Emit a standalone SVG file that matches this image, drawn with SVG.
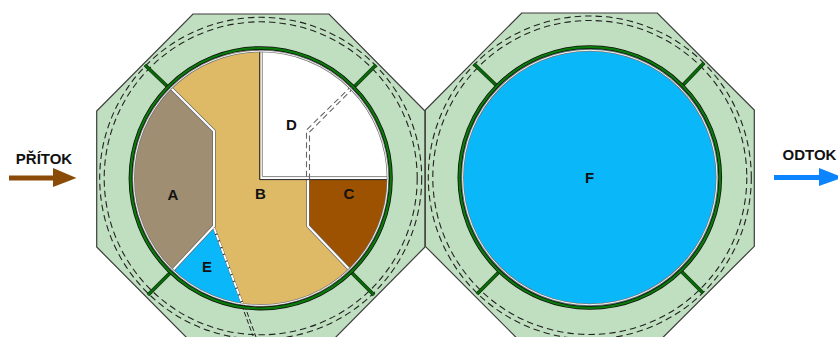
<svg xmlns="http://www.w3.org/2000/svg" width="838" height="337" viewBox="0 0 838 337">
<style>
.oct{fill:#c0dfc0;stroke:#3c3c3c;stroke-width:1.2}
.dash{fill:none;stroke:#222;stroke-width:1.1;stroke-dasharray:6.500 4}
.r1{fill:none;stroke:#0f0f0f;stroke-width:3.800}
.r2{fill:none;stroke:#0a7a0a;stroke-width:2.200}
.r3{fill:none;stroke:#777;stroke-width:2.400}
.r4{fill:none;stroke:#f4f4f4;stroke-width:1}
.sp1{stroke:#123c12;stroke-width:3.800;fill:none}
.sp2{stroke:#0a6a0a;stroke-width:2.200;fill:none}
.sepg{fill:none;stroke:#666;stroke-width:3.400}
.sepw{fill:none;stroke:#fff;stroke-width:2}
.dd{fill:none;stroke:#666;stroke-width:1.100;stroke-dasharray:6 3.500}
.t{font-family:"Liberation Sans",Arial,sans-serif;font-weight:bold;font-size:15px;fill:#111;text-anchor:middle}
</style>
<g id="tank-left">
<polygon class="oct" points="193,14 329,14 425,111 425,247 329,344 193,344 96.700,247 96.700,111"/>
<circle class="dash" cx="260.700" cy="178.300" r="161"/>
<circle class="dash" cx="260.700" cy="178.300" r="156.500"/>
<path class="sp1" d="M145,65L168,87M376,65L354,87M148,295L170,273M374,295L352,273"/>
<path class="sp2" d="M145,65L168,87M376,65L354,87M148,295L170,273M374,295L352,273"/>
<circle cx="260.700" cy="178.300" r="128.500" fill="#fff"/>
</g>
<g id="region-B"><path d="M171,88A128.500,128.500 0 0 1 260.700,50L260.700,180L307,180L307,226L350,270A128.500,128.500 0 0 1 243,305.500L214,228L214,131Z" fill="#deba66"/></g>
<g id="region-A"><path d="M170,88L213.500,132L213.500,226L172,271A128.500,128.500 0 0 1 170,88Z" fill="#9f8e72"/></g>
<g id="region-C"><path d="M308,180L389,180A128.500,128.500 0 0 1 350,270L308,226Z" fill="#9c5200"/></g>
<g id="region-D"><path d="M260.700,50A128.500,128.500 0 0 1 389,179L260.700,179Z" fill="#fff"/></g>
<g id="region-E"><path d="M214,228L243,305.500A128.500,128.500 0 0 1 172,271Z" fill="#0ab8fa"/></g>
<g id="connectors">
<path d="M171,88L214,131L214,226L172,271M308,180L308,226L350,270" class="sepg"/>
<path d="M171,88L214,131L214,226L172,271M308,180L308,226L350,270" class="sepw"/>
<path d="M214,228L243,305.500" fill="none" stroke="#333" stroke-width="2.400"/>
<path d="M214,228L243,305.500" fill="none" stroke="#fff" stroke-width="2" stroke-dasharray="6 1.200"/>
<path d="M259.700,50.500V179.600H389" fill="none" stroke="#222" stroke-width="1"/>
<path d="M262.300,50.500V176.600H389" fill="none" stroke="#888" stroke-width="1"/>
<path class="dd" d="M352,85.500L306.500,130V180"/>
<path class="dd" d="M354,87.500L309.500,132V180"/>
<path d="M241.700,305L253,336" fill="none" stroke="#222" stroke-width="1" stroke-dasharray="5 2.500"/>
<path d="M244.400,305L256,337" fill="none" stroke="#222" stroke-width="1" stroke-dasharray="5 2.500"/>
<path d="M9,178H54" stroke="#8a4b08" stroke-width="5" fill="none"/>
<polygon points="53,168 76.500,178 53,187" fill="#8a4b08"/>
<path d="M774,177.500H820" stroke="#0a84ff" stroke-width="5" fill="none"/>
<polygon points="819,168 843,177.500 819,186" fill="#0a84ff"/>
</g>
<g id="ring-left">
<circle class="r3" cx="260.700" cy="178.300" r="127.200"/>
<circle class="r4" cx="260.700" cy="178.300" r="127.200"/>
<circle class="r1" cx="260.700" cy="178.300" r="130.200"/>
<circle class="r2" cx="260.700" cy="178.300" r="130.200"/>
</g>
<g id="tank-right">
<polygon class="oct" points="521.700,13 657.300,13 754.300,110 754.300,246.300 657.300,343 521.700,343 425.300,246.300 425.300,110"/>
<circle class="dash" cx="589.800" cy="177.500" r="161.500"/>
<circle class="dash" cx="589.800" cy="177.500" r="157"/>
<path class="sp1" d="M474,64L497,86M704,63L683,85M477,294L499,272M703,293L682,272"/>
<path class="sp2" d="M474,64L497,86M704,63L683,85M477,294L499,272M703,293L682,272"/>
<circle cx="589.800" cy="177.500" r="128.500" fill="#0ab8fa"/>
<circle class="r3" cx="589.800" cy="177.500" r="127.200"/>
<circle class="r4" cx="589.800" cy="177.500" r="127.200"/>
<circle class="r1" cx="589.800" cy="177.500" r="130.400"/>
<circle class="r2" cx="589.800" cy="177.500" r="130.400"/>
</g>
<g id="labels">
<text class="t" x="44" y="163.500">PŘÍTOK</text>
<text class="t" x="809.500" y="159.500">ODTOK</text>
<text class="t" x="291.500" y="130">D</text>
<text class="t" x="173" y="199.500">A</text>
<text class="t" x="260.500" y="199">B</text>
<text class="t" x="349" y="199">C</text>
<text class="t" x="207" y="272">E</text>
<text class="t" x="589.500" y="183">F</text>
</g>
</svg>
